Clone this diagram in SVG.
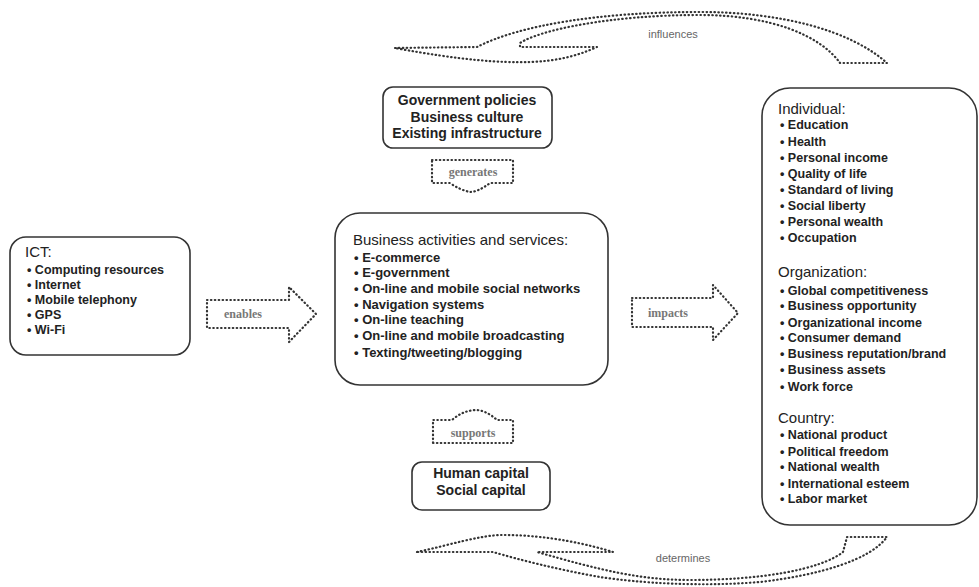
<svg xmlns="http://www.w3.org/2000/svg" width="979" height="587" viewBox="0 0 979 587">
<style>
.box{fill:#fff;stroke:#333;stroke-width:1.6}
.dot{fill:none;stroke:#333;stroke-width:2.2;stroke-dasharray:0.5 3.4;stroke-linecap:round;stroke-linejoin:round}
.h{font-family:"Liberation Sans",Arial,sans-serif;font-size:15px;fill:#222}
.b{font-family:"Liberation Sans",Arial,sans-serif;font-weight:bold;fill:#222}
.lbl{font-family:"Liberation Serif","Times New Roman",serif;font-weight:bold;font-size:12px;fill:#777;text-anchor:middle}
.cl{font-family:"Liberation Sans",Arial,sans-serif;font-size:11px;fill:#666;text-anchor:middle}
</style>
<rect width="979" height="587" fill="#fff"/>
<g id="connectors">
<g id="influences">
<path class="dot" d="M395,48 L477,47 C520,25 600,12 700,12 C780,12 850,30 887,63 L840,63 C820,35 770,15 700,15 C610,15 540,30 520,43 L520,47 L597,47 C575,57 555,61 530,62 C500,63 460,60 395,48 Z"/>
<text class="cl" x="673" y="38">influences</text>
</g>
<g id="determines">
<path class="dot" d="M417,552 C450,545 480,535 503,535 C550,535 590,545 613,552 L537,552 C600,570 640,580 690,580 C760,580 820,570 843,552 L847,537 L887,537 C870,560 820,575 760,582 C700,587 640,583 600,577 C560,570 520,560 493,552 Z"/>
<text class="cl" x="683" y="562">determines</text>
</g>
<g id="enables">
<path class="dot" d="M207,300 H289 V287 L316,314 L289,342 V328 H207 Z"/>
<text class="lbl" x="243" y="318">enables</text>
</g>
<g id="impacts">
<path class="dot" d="M632,298 H713 V285 L738,313 L713,340 V327 H632 Z"/>
<text class="lbl" x="668" y="317">impacts</text>
</g>
<g id="generates">
<path class="dot" d="M432,160 H513 V183 H490 Q478,192 470,192 Q460,190 450,183 H432 Z"/>
<text class="lbl" x="473" y="176">generates</text>
</g>
<g id="supports">
<path class="dot" d="M433,443 H513 V420 H497 Q486,410 475,410 Q462,411 452,420 H433 Z"/>
<text class="lbl" x="473" y="437">supports</text>
</g>
</g>
<g id="ict">
<rect class="box" x="10" y="237" width="180" height="118" rx="16"/>
<text class="h" x="25" y="257">ICT:</text>
<g class="b" font-size="12.5">
<text x="27" y="274">• Computing resources</text>
<text x="27" y="289">• Internet</text>
<text x="27" y="304">• Mobile telephony</text>
<text x="27" y="319">• GPS</text>
<text x="27" y="334">• Wi-Fi</text>
</g>
</g>
<g id="business">
<rect class="box" x="335" y="213" width="273" height="172" rx="25"/>
<text class="h" x="353" y="245">Business activities and services:</text>
<g class="b" font-size="13">
<text x="354" y="261.5">• E-commerce</text>
<text x="354" y="276.5">• E-government</text>
<text x="354" y="292.5">• On-line and mobile social networks</text>
<text x="354" y="308.5">• Navigation systems</text>
<text x="354" y="323.5">• On-line teaching</text>
<text x="354" y="340">• On-line and mobile broadcasting</text>
<text x="354" y="357">• Texting/tweeting/blogging</text>
</g>
</g>
<g id="context">
<rect class="box" x="383" y="87" width="169" height="61" rx="10"/>
<g class="b" font-size="14" text-anchor="middle">
<text x="467" y="105">Government policies</text>
<text x="467" y="122">Business culture</text>
<text x="467" y="138">Existing infrastructure</text>
</g>
</g>
<g id="capital">
<rect class="box" x="412" y="462" width="138" height="48" rx="10"/>
<g class="b" font-size="14" text-anchor="middle">
<text x="481" y="478">Human capital</text>
<text x="481" y="495">Social capital</text>
</g>
</g>
<g id="impacts-box">
<rect class="box" x="762" y="88" width="215" height="437" rx="28"/>
<text class="h" x="778" y="114">Individual:</text>
<g class="b" font-size="12.5">
<text x="780" y="128.5">• Education</text>
<text x="780" y="145.5">• Health</text>
<text x="780" y="161.5">• Personal income</text>
<text x="780" y="177.5">• Quality of life</text>
<text x="780" y="193.5">• Standard of living</text>
<text x="780" y="209.5">• Social liberty</text>
<text x="780" y="225.5">• Personal wealth</text>
<text x="780" y="241.5">• Occupation</text>
</g>
<text class="h" x="778" y="277">Organization:</text>
<g class="b" font-size="12.5">
<text x="780" y="294.5">• Global competitiveness</text>
<text x="780" y="309.5">• Business opportunity</text>
<text x="780" y="326.5">• Organizational income</text>
<text x="780" y="341.5">• Consumer demand</text>
<text x="780" y="357.5">• Business reputation/brand</text>
<text x="780" y="373.5">• Business assets</text>
<text x="780" y="390.5">• Work force</text>
</g>
<text class="h" x="778" y="423">Country:</text>
<g class="b" font-size="12.5">
<text x="780" y="438.5">• National product</text>
<text x="780" y="455.5">• Political freedom</text>
<text x="780" y="470.5">• National wealth</text>
<text x="780" y="487.5">• International esteem</text>
<text x="780" y="502.5">• Labor market</text>
</g>
</g>
</svg>
